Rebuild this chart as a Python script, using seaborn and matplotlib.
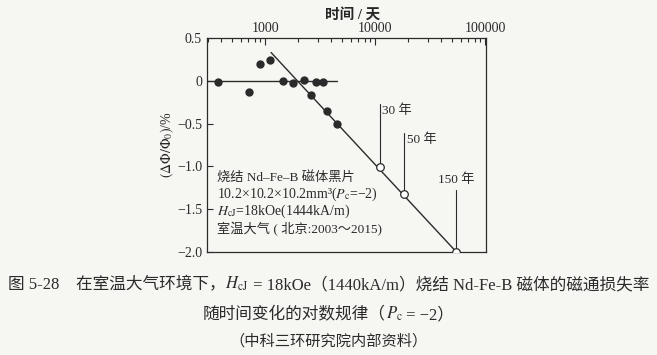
import matplotlib
matplotlib.use("Agg")
import matplotlib.pyplot as plt
import seaborn as sns
import numpy as np
import pandas as pd
from matplotlib.ticker import LogLocator, NullFormatter, FixedLocator, FixedFormatter

# 实测数据点 (天, %)
days_meas = [372, 715, 890, 1094, 1450, 1785, 2230, 2900, 3330, 2620, 3640, 4470]
loss_meas = [-0.01, -0.126, 0.2, 0.24, 0.0, -0.03, 0.01, -0.01, -0.01, -0.165, -0.35, -0.5]

# 零线与对数拟合线
zero_t = [295, 4470]
zero_v = [0.0, 0.0]
fit_t = [1130, 54750]
fit_v = [0.33, -2.0]

# 外推点: 30 年, 50 年, 150 年
extra_t = [10950, 18250, 54750]
extra_v = [-1.01, -1.32, -2.0]
extra_top = [-0.27, -0.61, -1.27]
extra_lbl = ["30 年", "50 年", "150 年"]

bg = "#f6f6f3"
ink = "#2b2b2b"
W, H = 657, 355

sns.set_theme(style="ticks")
plt.rcParams["font.family"] = ["Liberation Serif", "Noto Sans CJK SC", "DejaVu Sans"]
plt.rcParams["mathtext.fontset"] = "stix"
plt.rcParams["axes.edgecolor"] = ink
plt.rcParams["text.color"] = ink

fig = plt.figure(figsize=(W / 100, H / 100), dpi=100, facecolor=bg)
ax = fig.add_axes([0.315, 0.290, 0.425, 0.603])
ax.set_facecolor(bg)

df_meas = pd.DataFrame({"t": days_meas, "v": loss_meas})
df_fit = pd.DataFrame({"t": fit_t, "v": fit_v})
df_zero = pd.DataFrame({"t": zero_t, "v": zero_v})
df_extra = pd.DataFrame({"t": extra_t, "v": extra_v})

sns.lineplot(data=df_zero, x="t", y="v", ax=ax, color=ink, lw=1.0, zorder=2)
sns.lineplot(data=df_fit, x="t", y="v", ax=ax, color=ink, lw=1.0, zorder=2)
for t, v0, v1, lbl in zip(extra_t, extra_v, extra_top, extra_lbl):
    ax.plot([t, t], [v0, v1], color=ink, lw=0.8, zorder=2)
    if lbl == "150 年":
        ax.text(t, v1 + 0.04, lbl, ha="center", va="bottom", fontsize=9.5)
    else:
        ax.text(t * 1.06, v1, lbl, ha="left", va="top", fontsize=9.5)
sns.scatterplot(data=df_meas, x="t", y="v", ax=ax, color=ink, s=36,
                edgecolor=ink, linewidth=0, zorder=3)
sns.scatterplot(data=df_extra, x="t", y="v", ax=ax, color="white", s=30,
                edgecolor=ink, linewidth=0.9, zorder=3)

ax.set_xscale("log")
ax.set_xlim(295, 102000)
ax.set_ylim(-2.0, 0.5)
ax.xaxis.tick_top()
ax.xaxis.set_label_position("top")
ax.xaxis.set_major_locator(FixedLocator([1000, 10000, 100000]))
ax.xaxis.set_major_formatter(FixedFormatter(["1000", "10000", "100000"]))
ax.xaxis.set_minor_locator(LogLocator(base=10, subs=np.arange(2, 10)))
ax.xaxis.set_minor_formatter(NullFormatter())
ax.set_yticks([0.5, 0, -0.5, -1.0, -1.5, -2.0])
ax.set_yticklabels(["0.5", "0", "\u22120.5", "\u22121.0", "\u22121.5", "\u22122.0"])
ax.tick_params(axis="both", which="both", direction="in", labelsize=10, colors=ink,
               width=0.8)
ax.tick_params(axis="x", which="major", length=5, pad=2)
ax.tick_params(axis="x", which="minor", length=3)
ax.tick_params(axis="y", which="major", length=4)
for s in ax.spines.values():
    s.set_linewidth(0.9)

ax.set_xlabel("时间 / 天", fontsize=10.5, fontweight="bold")
ax.xaxis.set_label_coords(0.523, 1.09)
ax.set_ylabel(r"$(\Delta\Phi/\Phi_0)$/%", fontsize=10, labelpad=1)

# 图中说明文字
note_y = [0.348, 0.268, 0.188, 0.108]
note_txt = ["烧结 Nd\u2013Fe\u2013B 磁体黑片",
            r"10.2×10.2×10.2mm³($P_{\rm c}$=−2)",
            r"$H_{\rm cJ}$=18kOe(1444kA/m)",
            "室温大气 ( 北京:2003～2015)"]
note_size = [9.5, 10, 10, 9.5]
for y, s, fs in zip(note_y, note_txt, note_size):
    ax.text(0.035, y, s, transform=ax.transAxes, fontsize=fs, va="center")


def centered_line(y_px, pieces, size):
    # 逐段绘制文字 (中文段与公式段分开), 然后整体居中
    renderer = fig.canvas.get_renderer()
    texts = [fig.text(0, 1 - y_px / H, s, fontsize=size, va="baseline") for s in pieces]
    widths = [t.get_window_extent(renderer).width for t in texts]
    x = (W - sum(widths)) / 2
    for t, w in zip(texts, widths):
        t.set_x(x / W)
        x += w


centered_line(289, ["图 5-28　在室温大气环境下，", r"$H_{\rm cJ}$",
                    " = 18kOe（1440kA/m）烧结 Nd-Fe-B 磁体的磁通损失率"], 12)
centered_line(319, ["随时间变化的对数规律（", r"$P_{\rm c}$", " = −2）"], 12)
centered_line(346, ["（中科三环研究院内部资料）"], 11)

fig.savefig("out.png", dpi=100, facecolor=bg)
